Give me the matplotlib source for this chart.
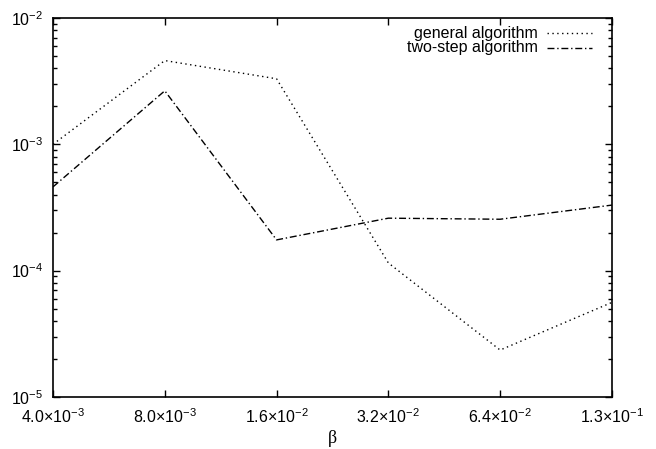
import matplotlib
matplotlib.use("Agg")
import matplotlib.pyplot as plt
from matplotlib.ticker import LogLocator, NullFormatter, NullLocator

plt.rcParams['font.family'] = ['Liberation Sans', 'DejaVu Sans']
plt.rcParams['mathtext.fontset'] = 'custom'
plt.rcParams['mathtext.rm'] = 'Liberation Sans'
plt.rcParams['mathtext.it'] = 'Liberation Sans:italic'
plt.rcParams['mathtext.bf'] = 'Liberation Sans:bold'

# datos
beta = [0.004, 0.008, 0.016, 0.032, 0.064, 0.128]
beta_labels = [r'4.0$\times$10$^{-3}$', r'8.0$\times$10$^{-3}$', r'1.6$\times$10$^{-2}$',
               r'3.2$\times$10$^{-2}$', r'6.4$\times$10$^{-2}$', r'1.3$\times$10$^{-1}$']
general = [1.0e-3, 4.6e-3, 3.3e-3, 1.15e-4, 2.35e-5, 5.6e-5]
two_step = [4.6e-4, 2.65e-3, 1.75e-4, 2.6e-4, 2.55e-4, 3.3e-4]

fig = plt.figure(figsize=(6.56, 4.49), dpi=100)
ax = fig.add_axes([0.0808, 0.116, 0.852, 0.844])

ax.plot(beta, general, color='black', lw=1.0, linestyle=(0, (1, 2.5)))
ax.plot(beta, two_step, color='black', lw=1.0, linestyle=(0, (5, 2, 1, 2)))

ax.set_xscale('log', base=2)
ax.set_yscale('log')
ax.set_xlim(0.004, 0.128)
ax.set_ylim(1e-5, 1e-2)

ax.set_xticks(beta)
ax.set_xticklabels(beta_labels)
ax.xaxis.set_minor_locator(NullLocator())
ax.yaxis.set_major_locator(LogLocator(base=10))
ax.yaxis.set_minor_locator(LogLocator(base=10, subs=range(2, 10)))
ax.yaxis.set_minor_formatter(NullFormatter())
ax.set_yticks([1e-5, 1e-4, 1e-3, 1e-2])
ax.set_yticklabels([r'10$^{-5}$', r'10$^{-4}$', r'10$^{-3}$', r'10$^{-2}$'])

ax.tick_params(which='both', direction='in', top=True, right=True, labelsize=11.5, width=1)
ax.tick_params(which='major', length=5)
ax.tick_params(which='minor', length=3)
ax.tick_params(axis='y', pad=7)
ax.tick_params(axis='x', pad=7.5)
for s in ax.spines.values():
    s.set_linewidth(1.2)

ax.set_xlabel('β', family=['Liberation Serif', 'DejaVu Serif'], fontsize=13, labelpad=3)

# leyenda estilo gnuplot
ax.text(0.868, 0.96, 'general algorithm', transform=ax.transAxes, ha='right', va='center', fontsize=11.5)
ax.text(0.868, 0.921, 'two-step algorithm', transform=ax.transAxes, ha='right', va='center', fontsize=11.5)
ax.plot([0.884, 0.964], [0.96, 0.96], transform=ax.transAxes, color='black', lw=1.0, linestyle=(0, (1, 2.5)))
ax.plot([0.884, 0.964], [0.921, 0.921], transform=ax.transAxes, color='black', lw=1.0, linestyle=(0, (5, 2, 1, 2)))

plt.savefig('out.png', dpi=100)
plt.close()
